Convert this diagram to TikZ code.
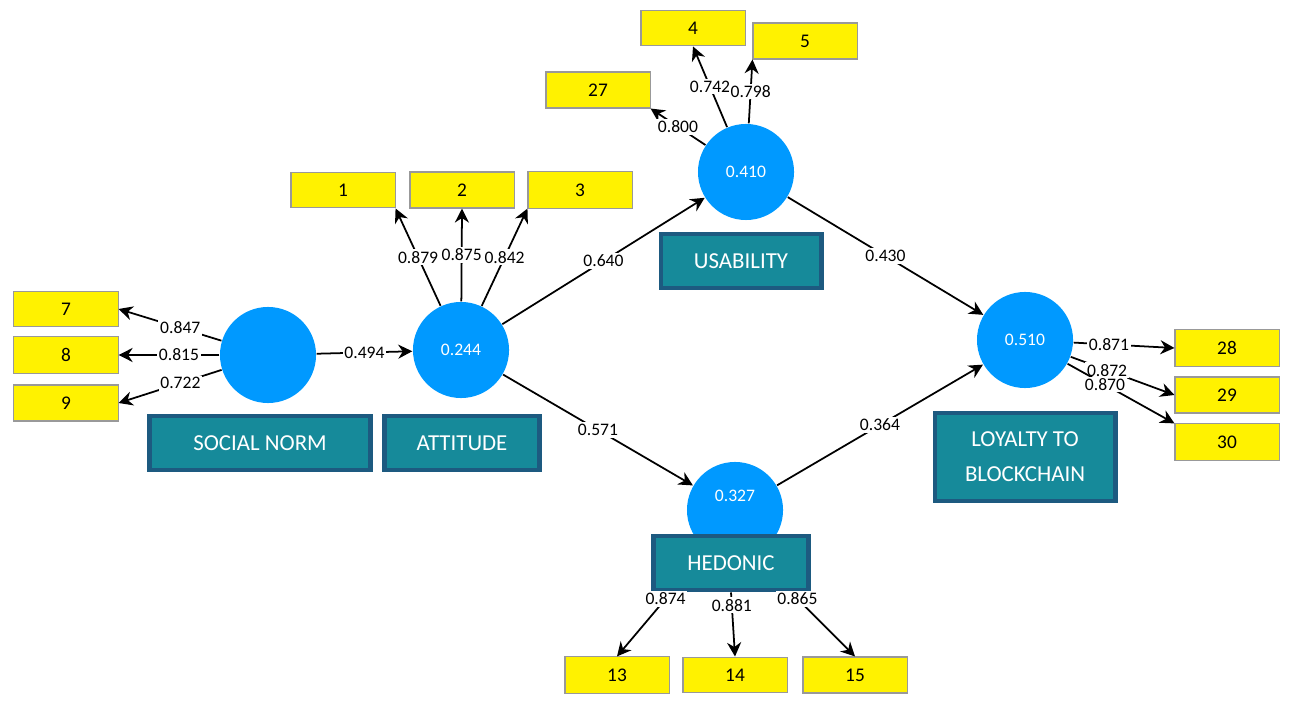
\documentclass[tikz,border=0pt]{standalone}
\usepackage{fontspec}
\setmainfont{Carlito}
\usetikzlibrary{arrows.meta}
\definecolor{lvblue}{HTML}{0099FF}
\definecolor{lvteal}{HTML}{168A9A}
\definecolor{lvedge}{HTML}{1D5A80}
\tikzset{
  lv/.style={circle,fill=lvblue,minimum size=0.96cm,inner sep=0pt,text=white,font=\fontsize{5}{6}\selectfont},
  ind/.style={rectangle,draw=black!40,line width=0.3pt,fill=yellow,minimum width=1.04cm,minimum height=0.33cm,font=\fontsize{5.5}{6}\selectfont},
  tag/.style={rectangle,draw=lvedge,line width=1.4pt,fill=lvteal,text=white,minimum height=0.54cm,font=\fontsize{6.5}{8}\selectfont,align=center},
  ld/.style={fill=white,inner sep=0.5pt,font=\fontsize{5}{6}\selectfont},
  pth/.style={-{Stealth[length=4pt,width=4pt]},line width=0.5pt}
}
\begin{document}
\begin{tikzpicture}[x=0.01cm,y=-0.01cm]
\useasboundingbox (0,0) rectangle (1292,707);
% latent variables
\node[lv] (sn) at (268,355) {};
\node[lv] (att) at (461,350) {0.244};
\node[lv] (usa) at (746,172) {0.410};
\node[lv] (loy) at (1025,340) {0.510};
\node[lv] (hed) at (735,510) {\raisebox{8pt}{0.327}};
% labels
\node[tag,minimum width=2.2cm] (tsn) at (260,443) {SOCIAL NORM};
\node[tag,minimum width=1.55cm] (tatt) at (462,443) {ATTITUDE};
\node[tag,minimum width=1.6cm] (tusa) at (741,261) {USABILITY};
\node[tag,minimum width=1.55cm] (thed) at (731,563) {HEDONIC};
\node[tag,minimum width=1.8cm,minimum height=0.88cm] (tloy) at (1025,457) {LOYALTY TO\\[2pt]BLOCKCHAIN};
% indicators
\node[ind] (i1) at (343,190) {1};
\node[ind] (i2) at (462,190) {2};
\node[ind] (i3) at (580,190) {3};
\node[ind] (i27) at (598,90) {27};
\node[ind] (i4) at (693,28) {4};
\node[ind] (i5) at (805,41) {5};
\node[ind] (i7) at (66,309) {7};
\node[ind] (i8) at (66,355) {8};
\node[ind] (i9) at (66,403) {9};
\node[ind] (i28) at (1227,348) {28};
\node[ind] (i29) at (1227,395) {29};
\node[ind] (i30) at (1227,442) {30};
\node[ind] (i13) at (617,675) {13};
\node[ind] (i14) at (735,675) {14};
\node[ind] (i15) at (855,675) {15};
% outer loadings
\draw[pth] (sn) -- (i7.east) node[ld,pos=0.4] {0.847};
\draw[pth] (sn) -- (i8.east) node[ld,pos=0.4] {0.815};
\draw[pth] (sn) -- (i9.east) node[ld,pos=0.4] {0.722};
\draw[pth] (att) -- (i1.south east) node[ld,midway] {0.879};
\draw[pth] (att) -- (i2.south) node[ld,midway] {0.875};
\draw[pth] (att) -- (i3.south west) node[ld,midway] {0.842};
\draw[pth] (usa) -- (i27.south east) node[ld,midway] {0.800};
\draw[pth] (usa) -- (i4.south) node[ld,midway] {0.742};
\draw[pth] (usa) -- (i5.south west) node[ld,midway] {0.798};
\draw[pth] (loy) -- (i28.west) node[ld,pos=0.35] {0.871};
\draw[pth] (loy) -- (i29.west) node[ld,pos=0.35] {0.872};
\draw[pth] (loy) -- (i30.north west) node[ld,pos=0.35] {0.870};
\draw[pth] (thed.south west) ++(20,0) coordinate (h1) -- (i13.north) node[ld,pos=0.1] {0.874};
\draw[pth] (thed.south) coordinate (h2) -- (i14.north) node[ld,pos=0.2] {0.881};
\draw[pth] (thed.south east) ++(-20,0) coordinate (h3) -- (i15.north) node[ld,pos=0.1] {0.865};
% inner paths
\draw[pth] (sn) -- (att) node[ld,midway] {0.494};
\draw[pth] (att) -- (usa) node[ld,midway] {0.640};
\draw[pth] (att) -- (hed) node[ld,midway] {0.571};
\draw[pth] (usa) -- (loy) node[ld,midway] {0.430};
\draw[pth] (hed) -- (loy) node[ld,midway] {0.364};
\end{tikzpicture}
\end{document}
